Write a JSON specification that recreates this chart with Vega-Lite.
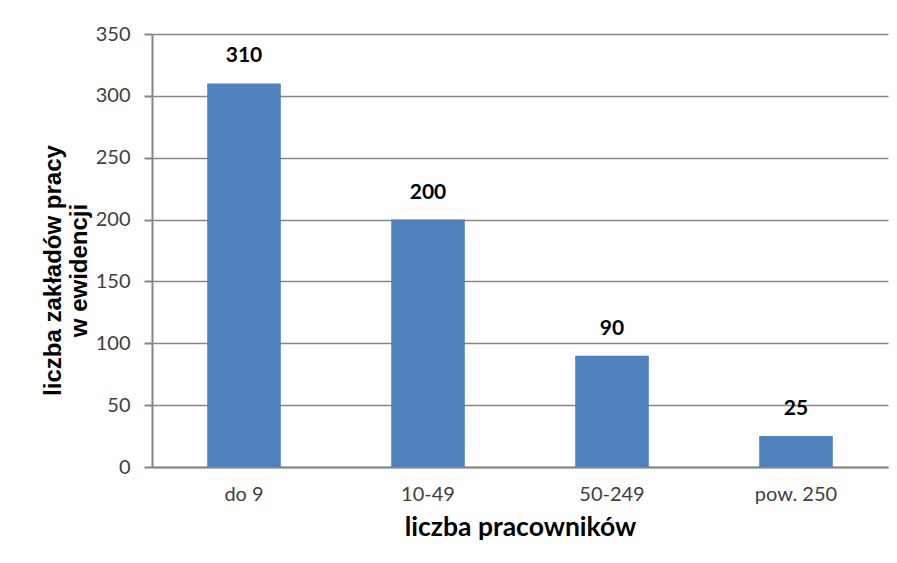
{
  "$schema": "https://vega.github.io/schema/vega-lite/v6.json",
  "width": 736,
  "height": 433,
  "autosize": {"type": "none"},
  "padding": {"left": 152, "top": 34, "right": 9, "bottom": 96},
  "background": "white",
  "config": {
    "view": {"stroke": null},
    "font": "Lato"
  },
  "data": {
    "values": [
      {"kategoria": "do 9", "liczba": 310},
      {"kategoria": "10-49", "liczba": 200},
      {"kategoria": "50-249", "liczba": 90},
      {"kategoria": "pow. 250", "liczba": 25}
    ]
  },
  "encoding": {
    "x": {
      "field": "kategoria",
      "type": "nominal",
      "sort": null,
      "scale": {"paddingInner": 0.6, "paddingOuter": 0.3},
      "axis": {
        "title": "liczba pracowników",
        "labelAngle": 0,
        "labelFont": "Lato",
        "labelFontSize": 20,
        "labelColor": "#404040",
        "labelPadding": 17,
        "ticks": false,
        "tickSize": 0,
        "domainColor": "#868686",
        "domainWidth": 2,
        "titleFont": "Lato",
        "titleFontSize": 26.5,
        "titleFontWeight": "bold",
        "titleColor": "#000000",
        "titlePadding": 10
      }
    },
    "y": {
      "field": "liczba",
      "type": "quantitative",
      "scale": {"domain": [0, 350]},
      "axis": {
        "values": [0, 50, 100, 150, 200, 250, 300, 350],
        "title": ["liczba zakładów pracy", "w ewidencji"],
        "labelFont": "Lato",
        "labelFontSize": 20,
        "labelColor": "#404040",
        "labelPadding": 14,
        "tickSize": 8,
        "tickColor": "#868686",
        "tickWidth": 2,
        "domainColor": "#868686",
        "domainWidth": 2,
        "gridColor": "#868686",
        "gridWidth": 1.5,
        "titleFont": "Liberation Sans",
        "titleFontSize": 24,
        "titleFontWeight": "bold",
        "titleColor": "#000000",
        "titleLineHeight": 26,
        "titlePadding": 4,
        "titleY": 236
      }
    }
  },
  "layer": [
    {
      "mark": {"type": "bar", "color": "#4F81BD"}
    },
    {
      "mark": {"type": "text", "baseline": "alphabetic", "dy": -21, "fontWeight": "bold", "fontSize": 21, "font": "Lato", "color": "#000000"},
      "encoding": {"text": {"field": "liczba", "type": "quantitative"}}
    }
  ]
}
